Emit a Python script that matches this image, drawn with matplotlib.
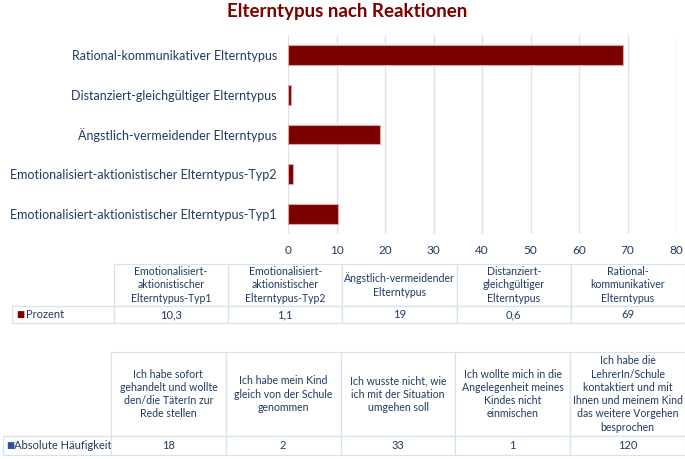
import matplotlib
matplotlib.use("Agg")
import matplotlib.pyplot as plt
import numpy as np

# Colors used in the chart
DARKRED = '#7b0000'
EDGE = '#e3a3a3'
TEXT = '#1f3a60'
GRID = '#d7e6ee'
BORDER = '#d6e3ea'
BLUEKEY = '#2e5597'

plt.rcParams['font.family'] = ['Lato', 'DejaVu Sans']

# Data
types = ["Emotionalisiert-aktionistischer Elterntypus-Typ1",
         "Emotionalisiert-aktionistischer Elterntypus-Typ2",
         "Ängstlich-vermeidender Elterntypus",
         "Distanziert-gleichgültiger Elterntypus",
         "Rational-kommunikativer Elterntypus"]
percent = [10.3, 1.1, 19, 0.6, 69]
percent_labels = ["10,3", "1,1", "19", "0,6", "69"]

type_headers = ["Emotionalisiert-\naktionistischer\nElterntypus-Typ1",
                "Emotionalisiert-\naktionistischer\nElterntypus-Typ2",
                "Ängstlich-vermeidender\nElterntypus",
                "Distanziert-\ngleichgültiger\nElterntypus",
                "Rational-\nkommunikativer\nElterntypus"]

reactions = ["Ich habe sofort\ngehandelt und wollte\nden/die TäterIn zur\nRede stellen",
             "Ich habe mein Kind\ngleich von der Schule\ngenommen",
             "Ich wusste nicht, wie\nich mit der Situation\numgehen soll",
             "Ich wollte mich in die\nAngelegenheit meines\nKindes nicht\neinmischen",
             "Ich habe die\nLehrerIn/Schule\nkontaktiert und mit\nIhnen und meinem Kind\ndas weitere Vorgehen\nbesprochen"]
counts = ["18", "2", "33", "1", "120"]

x_ticks = [0, 10, 20, 30, 40, 50, 60, 70, 80]

W, H = 685, 459
fig = plt.figure(figsize=(W / 100, H / 100), dpi=100)


def px_rect(x0, y0, x1, y1):
    return [x0 / W, 1 - y1 / H, (x1 - x0) / W, (y1 - y0) / H]


# Title
fig.text(347 / W, 1 - 11 / H, "Elterntypus nach Reaktionen", ha='center', va='center',
         fontsize=13.5, fontweight='bold', color=DARKRED)

# Bar chart
ax = fig.add_axes(px_rect(288, 35, 676, 234))
y = np.arange(len(types))
ax.barh(y, percent, height=0.5, color=DARKRED, edgecolor=EDGE, linewidth=0.8, zorder=3)
ax.set_xlim(0, 80)
ax.set_ylim(-0.5, len(types) - 0.5)
ax.set_xticks(x_ticks)
ax.set_yticks(y)
ax.set_yticklabels(types, fontsize=9.0, color=TEXT)
ax.tick_params(axis='x', length=0, pad=8, labelsize=8.5, labelcolor=TEXT)
ax.tick_params(axis='y', length=0, pad=8)
ax.grid(axis='x', color=GRID, linewidth=1.0, zorder=0)
for s in ax.spines.values():
    s.set_visible(False)


def draw_table(rect, label, headers, values, key_color, head_h, row_h, lab_w, col_w, pad, key_x):
    tax = fig.add_axes(rect)
    tax.axis('off')
    cells = [[''] + headers, [label] + values]
    widths = [lab_w] + [col_w] * len(headers)
    tbl = tax.table(cellText=cells, cellLoc='center', colWidths=widths, bbox=[0, 0, 1, 1])
    tbl.auto_set_font_size(False)
    for (r, c), cell in tbl.get_celld().items():
        cell.set_edgecolor(BORDER)
        cell.set_linewidth(0.9)
        cell.set_height(head_h if r == 0 else row_h)
        txt = cell.get_text()
        txt.set_color(TEXT)
        txt.set_fontsize(7.6 if r == 0 else 8)
        txt.set_linespacing(1.25)
    tbl[0, 0].visible_edges = 'open'
    lab = tbl[1, 0]
    lab.get_text().set_horizontalalignment('left')
    lab.PAD = pad
    # small colour key in front of the row label
    tax.text(key_x, row_h / (head_h + row_h) / 2, "■", transform=tax.transAxes,
             ha='left', va='center', fontsize=6.2, color=key_color, family='DejaVu Sans')
    return tbl


draw_table(px_rect(12, 264, 685, 323), "Prozent", type_headers, percent_labels,
           DARKRED, 42, 17, 102, 114.2, 0.135, 4 / 673)
draw_table(px_rect(3, 352, 685, 455), "Absolute Häufigkeit", reactions, counts,
           BLUEKEY, 84, 19, 108, 114.8, 0.10, 3 / 682)

fig.savefig("out.png", dpi=100)
